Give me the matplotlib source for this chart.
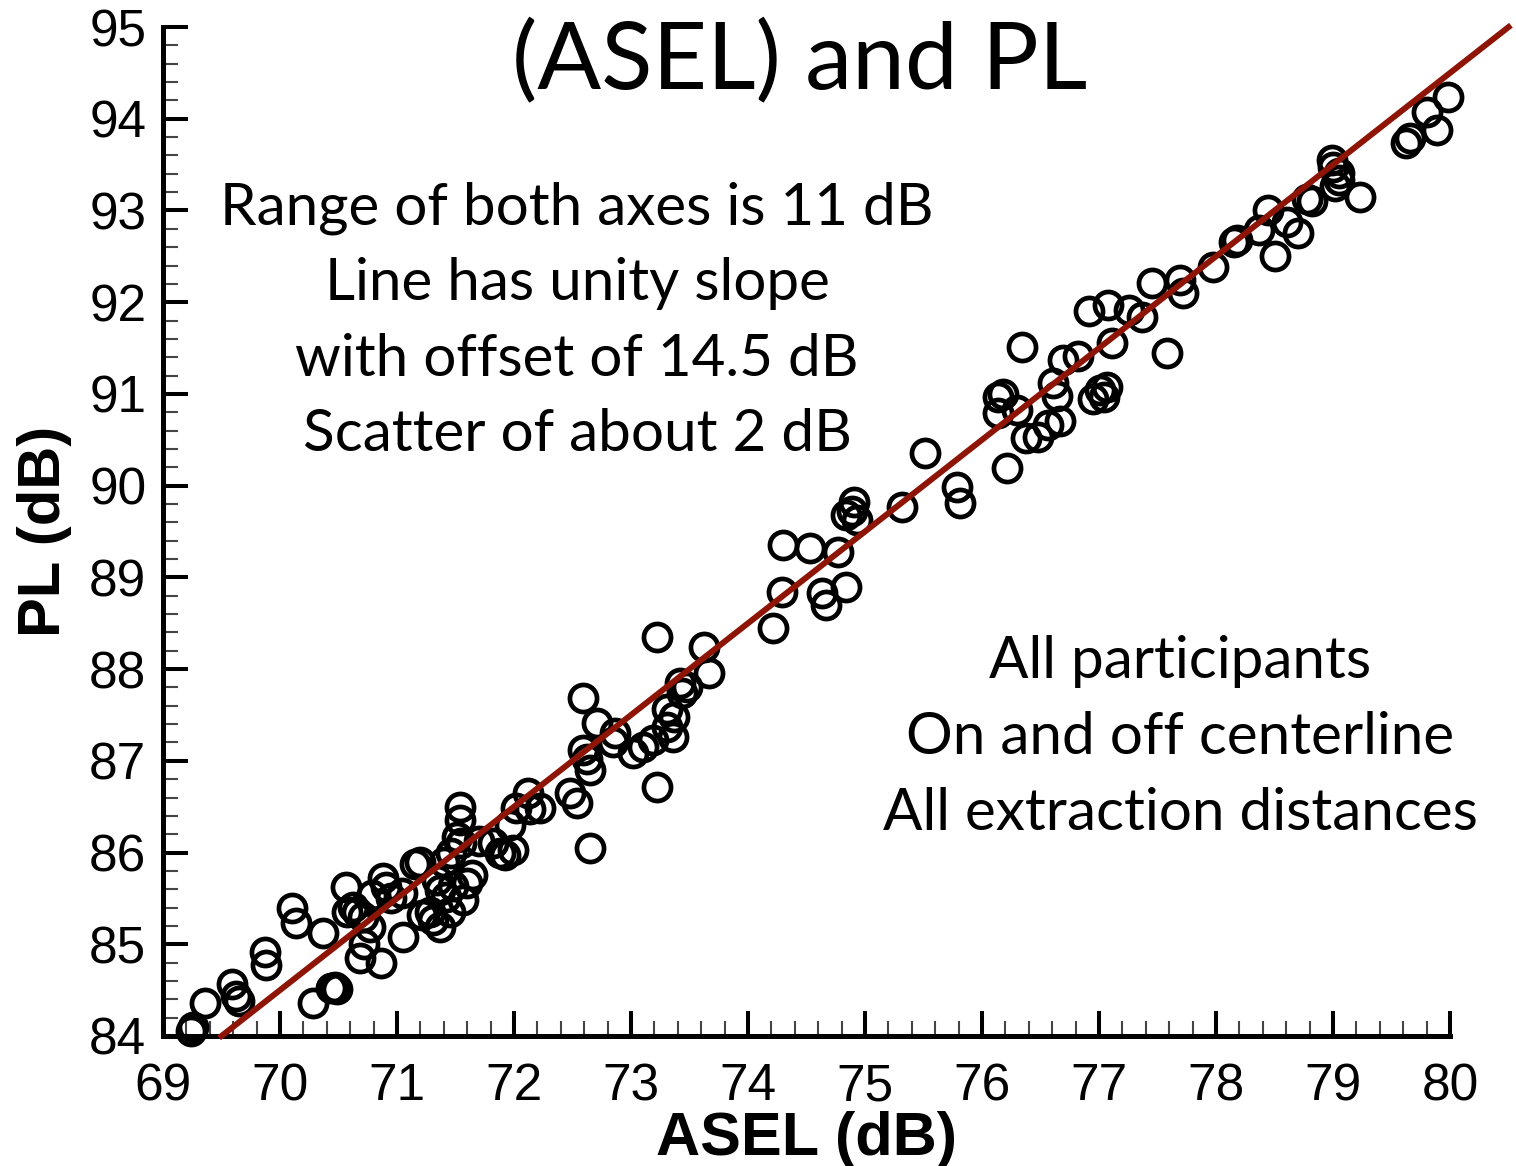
import numpy as np
import matplotlib.pyplot as plt
from matplotlib.ticker import MultipleLocator

# ASEL (dB) vs PL (dB)
asel = [69.24, 69.26, 69.36, 69.59, 69.62, 69.65, 69.87, 69.88, 70.10, 70.14,
        70.37, 70.28, 70.44, 70.47, 70.49, 70.56, 70.57, 70.62, 70.66, 70.71,
        70.77, 70.68, 70.72, 70.86, 70.88, 70.91, 70.79, 70.95, 71.04, 71.05,
        71.15, 71.20, 71.21, 71.31, 71.28, 71.37, 71.37, 71.34, 71.42, 71.48,
        71.56, 71.60, 71.64, 71.45, 71.40, 71.46, 71.54, 71.54, 71.51, 71.55,
        71.70, 71.82, 71.88, 71.92, 71.99, 71.97, 72.02, 72.12, 72.14, 72.22,
        72.48, 72.54, 72.59, 72.71, 72.59, 72.65, 72.65, 72.62, 72.86, 72.85,
        73.02, 73.10, 73.19, 73.31, 73.36, 73.31, 73.42, 73.44, 73.48, 73.22,
        73.62, 73.67, 73.22, 73.37, 74.21, 74.29, 74.30, 74.53, 74.63, 74.67,
        74.77, 74.84, 74.84, 74.89, 74.91, 74.93, 75.32, 75.51, 75.79, 75.81,
        76.14, 76.14, 76.18, 76.21, 76.30, 76.34, 76.38, 76.48, 76.56, 76.61,
        76.64, 76.67, 76.69, 76.82, 76.91, 76.95, 77.01, 77.04, 77.07, 77.08,
        77.11, 77.26, 77.37, 77.45, 77.58, 77.69, 77.72, 77.97, 78.15, 78.18,
        78.37, 78.44, 78.50, 78.61, 78.70, 78.78, 78.82, 78.99, 79.00, 79.05,
        79.05, 79.02, 79.23, 79.62, 79.66, 79.80, 79.89, 79.98]
pl = [84.05, 84.10, 84.36, 84.57, 84.44, 84.38, 84.92, 84.77, 85.40, 85.23,
      85.12, 84.36, 84.52, 84.53, 84.51, 85.62, 85.35, 85.41, 85.35, 85.30,
      85.19, 84.85, 85.00, 84.80, 85.72, 85.62, 85.54, 85.50, 85.56, 85.08,
      85.88, 85.90, 85.32, 85.27, 85.35, 85.59, 85.19, 85.70, 85.52, 85.63,
      85.48, 85.67, 85.75, 85.35, 85.90, 86.00, 86.50, 86.36, 86.17, 86.10,
      86.13, 86.10, 86.00, 85.97, 86.03, 86.30, 86.49, 86.65, 86.47, 86.49,
      86.65, 86.54, 87.69, 87.41, 87.12, 86.90, 86.05, 87.02, 87.30, 87.20,
      87.09, 87.15, 87.23, 87.37, 87.26, 87.56, 87.85, 87.74, 87.80, 88.35,
      88.24, 87.96, 86.72, 87.48, 88.45, 88.84, 89.35, 89.32, 88.83, 88.70,
      89.28, 88.90, 89.68, 89.72, 89.82, 89.63, 89.77, 90.36, 89.99, 89.81,
      90.79, 90.97, 91.00, 90.19, 90.83, 91.51, 90.52, 90.53, 90.66, 91.12,
      90.98, 90.70, 91.37, 91.41, 91.90, 90.94, 91.04, 90.97, 91.08, 91.97,
      91.56, 91.92, 91.84, 92.21, 91.45, 92.24, 92.10, 92.38, 92.66, 92.68,
      92.79, 93.01, 92.50, 92.87, 92.76, 93.12, 93.10, 93.55, 93.47, 93.41,
      93.33, 93.27, 93.15, 93.74, 93.79, 94.07, 93.88, 94.24]

# unity slope fit line
fit_x = [69.5, 80.5]
offset = 14.5

left_notes = ["Range of both axes is 11 dB", "Line has unity slope",
              "with offset of 14.5 dB", "Scatter of about 2 dB"]
right_notes = ["All participants", "On and off centerline",
               "All extraction distances"]

plt.rcParams['font.family'] = ['Liberation Sans', 'DejaVu Sans']

fig = plt.figure(figsize=(15.16, 11.66), dpi=100)
ax = fig.add_axes([0.1075, 0.1115, 0.849, 0.8653])

ax.plot(asel, pl, 'o', mfc='none', mec='black', ms=19.5, mew=3.4, zorder=2,
        clip_on=False)
fx = np.array(fit_x)
ax.plot(fx, fx + offset, '-', color='#8e1506', lw=4.3, zorder=3, clip_on=False)

ax.set_xlim(69, 80)
ax.set_ylim(84, 95)
ax.xaxis.set_major_locator(MultipleLocator(1))
ax.xaxis.set_minor_locator(MultipleLocator(0.2))
ax.yaxis.set_major_locator(MultipleLocator(1))
ax.yaxis.set_minor_locator(MultipleLocator(0.2))
ax.tick_params(which='major', direction='in', length=18, width=2.9,
               labelsize=37, color='black')
ax.tick_params(axis='x', which='major', pad=19)
ax.tick_params(axis='y', which='major', pad=12)
ax.tick_params(which='minor', direction='in', length=11, width=1.5, color='#444444')
for s in ['top', 'right']:
    ax.spines[s].set_visible(False)
for s in ['left', 'bottom']:
    ax.spines[s].set_linewidth(3.6)

ax.set_xlabel('ASEL (dB)', fontsize=44, fontweight='bold', labelpad=0)
ax.set_ylabel('PL (dB)', fontsize=43, fontweight='bold', labelpad=12)

fig.text(800 / 1516, 1 - 62 / 1166, '(ASEL) and PL', family='Lato',
         fontsize=68, ha='center', va='center')
for i, t in enumerate(left_notes):
    fig.text(577 / 1516, 1 - (208 + 75.5 * i) / 1166, t, family='Lato',
             fontsize=42, ha='center', va='center')
for i, t in enumerate(right_notes):
    fig.text(1180 / 1516, 1 - (662 + 76 * i) / 1166, t, family='Lato',
             fontsize=42, ha='center', va='center')

fig.savefig('out.png', dpi=100)
